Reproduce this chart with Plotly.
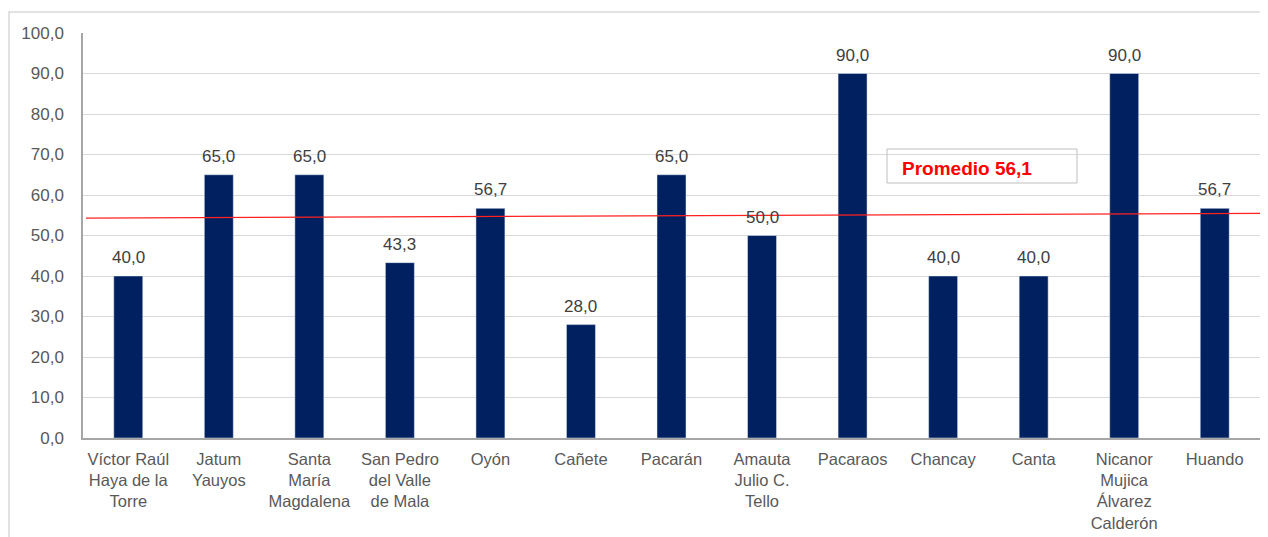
import plotly.graph_objects as go

categorias = [
    "Víctor Raúl<br>Haya de la<br>Torre", "Jatum<br>Yauyos", "Santa<br>María<br>Magdalena",
    "San Pedro<br>del Valle<br>de Mala", "Oyón", "Cañete", "Pacarán",
    "Amauta<br>Julio C.<br>Tello", "Pacaraos", "Chancay", "Canta",
    "Nicanor<br>Mujica<br>Álvarez<br>Calderón", "Huando",
]
valores = [40.0, 65.0, 65.0, 43.3, 56.7, 28.0, 65.0, 50.0, 90.0, 40.0, 40.0, 90.0, 56.7]
y_ticks = [0, 10, 20, 30, 40, 50, 60, 70, 80, 90, 100]
promedio_texto = "Promedio 56,1"
promedio_linea = [54.3, 55.5]  # drawn line, left end / right end

def fmt(v):
    return f"{v:.1f}".replace(".", ",")

FONT = "Liberation Sans, Arial, sans-serif"
OFF = 8  # page body margin
W, H = 1260, 529
ml, mr, mt, mb = 75, 8, 25, 99
pw, ph = W - ml - mr, H - mt - mb

def px_x(x):
    return (x - OFF - ml) / pw

def px_y(y):
    return (H - mb - (y - OFF)) / ph

fig = go.Figure()
fig.add_trace(go.Bar(
    x=categorias, y=valores, marker_color="#002060", width=0.32,
    hoverinfo="x+y",
))

for c, v in zip(categorias, valores):
    fig.add_annotation(x=c, y=v, text=fmt(v), showarrow=False, yanchor="bottom",
                       yshift=7, font=dict(family=FONT, size=17, color="#404040"))

# average line
fig.add_shape(type="line", xref="paper", yref="y", x0=px_x(86), x1=px_x(1275),
              y0=promedio_linea[0], y1=promedio_linea[1],
              line=dict(color="#ff2020", width=1.2))

# text box
fig.add_shape(type="rect", xref="paper", yref="paper", x0=px_x(887), x1=px_x(1077),
              y0=px_y(183), y1=px_y(149), line=dict(color="#bfbfbf", width=1),
              fillcolor="rgba(255,255,255,0)")
fig.add_annotation(xref="paper", yref="paper", x=px_x(900), y=px_y(168), xanchor="left",
                   yanchor="middle", text=f"<b>{promedio_texto}</b>", showarrow=False,
                   font=dict(family=FONT, size=19, color="#ff0000"))

# outer chart border
fig.add_shape(type="rect", xref="paper", yref="paper", x0=px_x(9), x1=px_x(1290),
              y0=px_y(560), y1=px_y(12), line=dict(color="#d9d9d9", width=1.5),
              fillcolor="rgba(0,0,0,0)", layer="below")

fig.update_layout(
    width=W, height=H, margin=dict(l=ml, r=mr, t=mt, b=mb, autoexpand=False),
    paper_bgcolor="white", plot_bgcolor="white", showlegend=False,
    font=dict(family=FONT, size=17, color="#595959"),
    bargap=0.68,
)
fig.update_xaxes(showline=True, linecolor="#a6a6a6", linewidth=1.5, showgrid=False,
                 tickfont=dict(family=FONT, size=16.5, color="#595959"), ticks="", ticklen=0,
                 ticklabelstandoff=5, automargin=False)
fig.update_yaxes(range=[0, 100], tickvals=y_ticks, ticktext=[fmt(t) for t in y_ticks],
                 showline=True, linecolor="#a6a6a6", linewidth=1.5,
                 showgrid=True, gridcolor="#d9d9d9", gridwidth=1, zeroline=False,
                 tickfont=dict(family=FONT, size=17, color="#595959"),
                 ticklabelstandoff=14, automargin=False)

fig.write_html("out.html")
